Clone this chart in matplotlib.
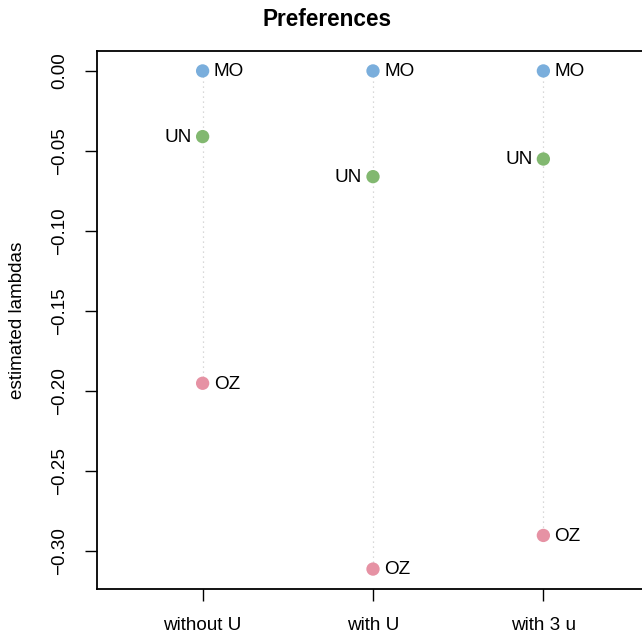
import numpy as np
import matplotlib
matplotlib.use("Agg")
import matplotlib.pyplot as plt

# ---------------- data ----------------
models = ["without U", "with U", "with 3 u"]
groups = ["MO", "UN", "OZ"]
lambdas_mo = [0.000, 0.000, 0.000]
lambdas_un = [-0.041, -0.066, -0.055]
lambdas_oz = [-0.195, -0.311, -0.290]

colors = {"MO": "#7AAEDC", "UN": "#82B870", "OZ": "#E692A4"}
label_side = {"MO": "right", "UN": "left", "OZ": "right"}

plt.rcParams["font.family"] = ["Liberation Sans", "DejaVu Sans"]

W, H = 642, 634
fig = plt.figure(figsize=(W / 100, H / 100), dpi=100)
# plot region in pixels; the original R device was wider, so the axes
# run past the right edge of the picture (right spine is cut off)
left, right, top, bottom = 97, 700, 51, 589
ax = fig.add_axes([left / W, 1 - bottom / H, (right - left) / W, (bottom - top) / H])
ax.spines["right"].set_visible(False)

x = np.arange(1, len(models) + 1)
series = {"MO": lambdas_mo, "UN": lambdas_un, "OZ": lambdas_oz}

# dotted guide lines from top to lowest point
for i, xi in enumerate(x):
    vals = [series[g][i] for g in groups]
    ax.plot([xi, xi], [max(vals), min(vals)], color="#CCCCCC", lw=0.9,
            ls=(0, (1, 3)), zorder=1)

for g in groups:
    ax.scatter(x, series[g], s=92, color=colors[g], edgecolors="none", zorder=3)
    for xi, yi in zip(x, series[g]):
        if label_side[g] == "right":
            ax.annotate(g, (xi, yi), xytext=(8.0, -0.6), textcoords="offset points",
                        ha="left", va="center", fontsize=13.6)
        else:
            ax.annotate(g, (xi, yi), xytext=(-8.0, -0.6), textcoords="offset points",
                        ha="right", va="center", fontsize=13.6)

# R style limits: xlim c(0.5, 3.5) + 4% (right side stretched to the wider axes)
x0, x1 = 0.5 - 0.12, 3.5 + 0.12
unit_px = (649 - left) / (x1 - x0)
ax.set_xlim(x0, x1 + (right - 649) / unit_px)
ymin = min(lambdas_oz)
ymax = 0.0
ext = (ymax - ymin) * 0.04
ax.set_ylim(ymin - ext, ymax + ext)

ax.set_xticks(x)
ax.set_xticklabels(models)
yt = [0.0, -0.05, -0.10, -0.15, -0.20, -0.25, -0.30]
ax.set_yticks(yt)
ax.set_yticklabels(["0.00" if v == 0 else f"\u2212{abs(v):.2f}" for v in yt],
                   rotation=90, va="center")
ax.tick_params(axis="both", length=8.5, width=1.0, labelsize=13.6, pad=12)

for sp in ax.spines.values():
    sp.set_linewidth(1.3)

fig.text(18 / W, 1 - 320 / H, "estimated lambdas", rotation=90,
         ha="center", va="center", fontsize=13.6)
fig.text(327 / W, 1 - 20 / H, "Preferences", ha="center", va="center",
         fontsize=16.3, fontweight="bold")

fig.savefig("out.png", dpi=100, facecolor="white")
